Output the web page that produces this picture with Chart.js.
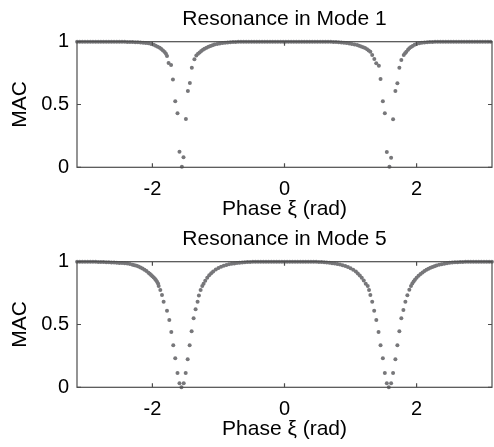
<!DOCTYPE html>
<html>
<head>
<meta charset="utf-8">
<script src="https://cdn.jsdelivr.net/npm/chart.js@4.4.1/dist/chart.umd.min.js"></script>
<style>
  html, body { margin: 0; padding: 0; background: #ffffff; }
  #wrap { position: relative; width: 494px; height: 447px; overflow: hidden; }
  canvas { position: absolute; left: 0; }
  #c1 { top: 0; }
  #c5 { top: 220px; }
</style>
</head>
<body>
<div id="wrap">
  <canvas id="c1" width="494" height="227"></canvas>
  <canvas id="c5" width="494" height="227"></canvas>
</div>
<script>
// ---------------- data ----------------
const titles = ['Resonance in Mode 1', 'Resonance in Mode 5'];
const xLabel = 'Phase \u03BE (rad)';
const yLabel = 'MAC';
const xTicks = [-2, 0, 2];
const yTicks = [0, 0.5, 1];

const mode1X = [
  -3.14,-3.10,-3.06,-3.02,-2.98,-2.94,-2.90,-2.86,-2.82,-2.78,-2.74,-2.70,-2.66,-2.62,-2.58,-2.54,
  -2.50,-2.46,-2.42,-2.38,-2.34,-2.30,-2.26,-2.22,-2.18,-2.14,-2.10,-2.06,-2.02,-1.98,-1.95,-1.92,
  -1.89,-1.865,-1.84,-1.815,-1.795,
  -1.779,-1.755,-1.717,-1.689,-1.654,-1.62,-1.59,-1.554,-1.529,-1.493,-1.463,-1.433,-1.403,-1.364,-1.335,
  -1.31,-1.285,-1.26,-1.235,-1.21,-1.18,-1.15,-1.12,-1.09,-1.06,-1.02,-0.98,-0.94,-0.90,-0.86,-0.82,
  -0.78,-0.74,-0.70,-0.66,-0.62,-0.58,-0.54,-0.50,-0.46,-0.42,-0.38,-0.34,-0.30,-0.26,-0.22,-0.18,
  -0.14,-0.10,-0.06,-0.02,0.02,0.06,0.10,0.14,0.18,0.22,0.26,0.30,0.34,0.38,0.42,0.46,0.50,0.54,0.58,
  0.62,0.66,0.70,0.74,0.78,0.82,0.86,0.90,0.94,0.98,1.02,1.06,1.10,1.13,1.16,1.19,1.22,1.25,1.275,1.30,
  1.328,1.36,1.389,1.429,1.454,1.489,1.519,1.549,1.589,1.614,1.644,1.679,1.709,1.739,1.769,1.805,
  1.825,1.845,1.87,1.89,1.915,1.94,1.97,2.00,2.04,2.08,2.12,2.16,2.20,2.24,2.28,2.32,
  2.36,2.40,2.44,2.48,2.52,2.56,2.60,2.64,2.68,2.72,2.76,2.80,2.84,2.88,2.92,2.96,3.00,3.04,3.08,3.12
];
const mode1Y = [
  1,1,1,1,1,1,1,1,1,1,1,1,1,1,1,1,
  0.999,0.999,0.999,0.998,0.998,0.997,0.996,0.995,0.993,0.992,0.99,0.987,0.982,0.975,0.968,0.96,
  0.951,0.942,0.93,0.918,0.905,
  0.886,0.83,0.815,0.70,0.526,0.43,0.123,0.005,0.08,0.385,0.607,0.672,0.792,0.86,0.89,
  0.905,0.915,0.926,0.936,0.944,0.952,0.96,0.966,0.972,0.977,0.982,0.986,0.989,0.992,0.994,0.996,
  0.997,0.998,0.999,0.999,1,1,1,1,1,1,1,1,1,1,1,1,
  1,1,1,1,1,1,1,1,1,1,1,1,1,1,1,1,1,1,1,
  1,0.999,0.999,0.998,0.997,0.996,0.994,0.992,0.989,0.986,0.982,0.978,0.973,0.968,0.962,0.956,0.949,0.94,0.93,0.92,
  0.894,0.862,0.828,0.809,0.703,0.525,0.43,0.122,0.005,0.077,0.382,0.607,0.669,0.793,0.854,0.894,
  0.908,0.92,0.935,0.948,0.958,0.966,0.975,0.982,0.987,0.991,0.994,0.996,0.997,0.998,0.999,0.999,
  1,1,1,1,1,1,1,1,1,1,1,1,1,1,1,1,1,1,1,1
];

const mode5X = [
  -3.14,-3.10,-3.06,-3.02,-2.98,-2.94,-2.90,-2.86,-2.82,-2.78,-2.74,-2.70,-2.66,-2.62,-2.58,-2.54,
  -2.50,-2.46,-2.42,-2.38,-2.34,-2.30,-2.27,-2.24,-2.21,-2.18,-2.15,-2.12,-2.09,-2.06,-2.04,-2.02,
  -2.00,-1.98,-1.96,-1.945,-1.93,-1.915,
  -1.905,-1.88,-1.855,-1.83,-1.779,-1.744,-1.714,-1.684,-1.654,-1.62,-1.59,-1.56,-1.526,-1.496,
  -1.466,-1.436,-1.406,-1.376,-1.346,-1.316,-1.296,-1.27,-1.245,
  -1.225,-1.20,-1.17,-1.14,-1.11,-1.08,-1.04,-1.00,-0.96,-0.92,-0.88,-0.84,-0.80,-0.76,-0.72,-0.68,
  -0.64,-0.60,-0.56,-0.52,-0.48,-0.44,-0.40,-0.36,-0.32,-0.28,-0.24,-0.20,-0.16,-0.12,-0.08,-0.04,
  0.00,0.04,0.08,0.12,0.16,0.20,0.24,0.28,0.32,0.36,0.40,0.44,0.48,0.52,0.56,0.60,0.64,0.68,0.72,
  0.76,0.80,0.84,0.88,0.92,0.96,1.00,1.04,1.08,1.11,1.14,1.17,1.20,1.23,
  1.26,1.28,1.30,1.328,1.358,1.39,1.424,1.454,1.489,1.519,1.549,1.579,1.614,1.644,1.679,1.709,
  1.739,1.769,1.80,1.83,1.86,1.89,1.915,
  1.935,1.955,1.975,2.00,2.03,2.06,2.09,2.12,2.15,2.18,2.21,2.24,2.27,2.30,2.34,2.38,2.42,2.46,
  2.50,2.54,2.58,2.62,2.66,2.70,2.74,2.78,2.82,2.86,2.90,2.94,2.98,3.02,3.06,3.10,3.14
];
const mode5Y = [
  1,1,1,1,1,0.999,0.999,0.999,0.998,0.998,0.997,0.996,0.995,0.994,0.993,0.991,
  0.99,0.99,0.988,0.985,0.981,0.976,0.972,0.967,0.961,0.954,0.945,0.935,0.925,0.913,0.904,0.895,
  0.885,0.874,0.862,0.852,0.84,0.826,
  0.807,0.775,0.735,0.682,0.61,0.536,0.44,0.334,0.231,0.114,0.032,0.0,0.032,0.114,
  0.223,0.334,0.446,0.549,0.621,0.682,0.73,0.775,0.807,
  0.825,0.848,0.872,0.892,0.908,0.922,0.937,0.949,0.959,0.967,0.974,0.979,0.983,0.986,0.989,0.991,
  0.993,0.995,0.997,0.998,0.999,0.999,1,1,1,1,1,1,1,1,1,1,
  1,1,1,1,1,1,1,1,1,1,1,0.999,0.999,0.998,0.997,0.995,0.993,0.991,0.988,
  0.985,0.982,0.977,0.972,0.965,0.957,0.947,0.935,0.921,0.907,0.891,0.872,0.85,0.825,
  0.807,0.775,0.735,0.682,0.61,0.536,0.44,0.334,0.231,0.114,0.032,0.0,0.032,0.114,0.223,0.334,
  0.446,0.549,0.615,0.682,0.733,0.777,0.807,
  0.827,0.843,0.857,0.872,0.888,0.902,0.914,0.925,0.935,0.944,0.952,0.958,0.964,0.969,0.975,0.98,0.984,0.988,
  0.991,0.993,0.995,0.996,0.997,0.998,0.999,0.999,1,1,1,1,1,1,1,1,1
];

// ---------------- styling ----------------
const FONT = '"Liberation Sans", Arial, Helvetica, sans-serif';
const DOT = '#77777a';
const AXIS = '#4d4d4d';

const framePlugin = {
  id: 'frame',
  afterDatasetsDraw(chart) {
    const { ctx, chartArea: a, scales } = chart;
    const xs = scales.x, ys = scales.y;
    ctx.save();
    ctx.strokeStyle = AXIS;
    ctx.lineWidth = 1.2;
    ctx.strokeRect(a.left, a.top, a.right - a.left, a.bottom - a.top);
    const tl = 4;
    ctx.beginPath();
    xTicks.forEach(v => {
      const px = xs.getPixelForValue(v);
      ctx.moveTo(px, a.bottom); ctx.lineTo(px, a.bottom - tl);
      ctx.moveTo(px, a.top); ctx.lineTo(px, a.top + tl);
    });
    yTicks.forEach(v => {
      const py = ys.getPixelForValue(v);
      ctx.moveTo(a.left, py); ctx.lineTo(a.left + tl, py);
      ctx.moveTo(a.right, py); ctx.lineTo(a.right - tl, py);
    });
    ctx.stroke();
    ctx.restore();
  }
};

function makeChart(id, title, xs, ys) {
  const pts = xs.map((x, i) => ({ x: x, y: ys[i] }));
  return new Chart(document.getElementById(id), {
    type: 'scatter',
    data: {
      datasets: [{
        data: pts,
        pointRadius: 2,
        pointHoverRadius: 2,
        pointBackgroundColor: DOT,
        pointBorderWidth: 0,
        borderWidth: 0,
        showLine: false,
        clip: false
      }]
    },
    options: {
      responsive: false,
      animation: false,
      devicePixelRatio: 1,
      events: [],
      layout: { padding: { left: 0, right: 1, top: 0, bottom: 0 } },
      plugins: {
        legend: { display: false },
        tooltip: { enabled: false },
        title: {
          display: true,
          text: title,
          fullSize: false,
          color: '#000',
          font: { family: FONT, size: 21, weight: 'normal' },
          padding: { top: 7, bottom: 9.5 }
        }
      },
      scales: {
        x: {
          type: 'linear',
          min: -Math.PI,
          max: Math.PI,
          grid: { display: false, drawTicks: false },
          border: { display: false },
          afterBuildTicks: s => { s.ticks = xTicks.map(v => ({ value: v })); },
          afterFit: s => { s.height = 59.7; },
          ticks: {
            color: '#000',
            padding: 10.4,
            maxRotation: 0,
            font: { family: FONT, size: 20 }
          },
          title: {
            display: true,
            text: xLabel,
            color: '#000',
            font: { family: FONT, size: 21 },
            padding: { top: 0, bottom: 4.9 }
          }
        },
        y: {
          type: 'linear',
          min: 0,
          max: 1,
          grid: { display: false, drawTicks: false },
          border: { display: false },
          afterBuildTicks: s => { s.ticks = yTicks.map(v => ({ value: v })); },
          afterFit: s => { s.width = 77; },
          ticks: {
            color: '#000',
            padding: 8,
            font: { family: FONT, size: 20 },
            callback: v => String(v)
          },
          title: {
            display: true,
            text: yLabel,
            color: '#000',
            font: { family: FONT, size: 21 },
            padding: { top: 7.4, bottom: 0 }
          }
        }
      }
    },
    plugins: [framePlugin]
  });
}

makeChart('c1', titles[0], mode1X, mode1Y);
makeChart('c5', titles[1], mode5X, mode5Y);
</script>
</body>
</html>
